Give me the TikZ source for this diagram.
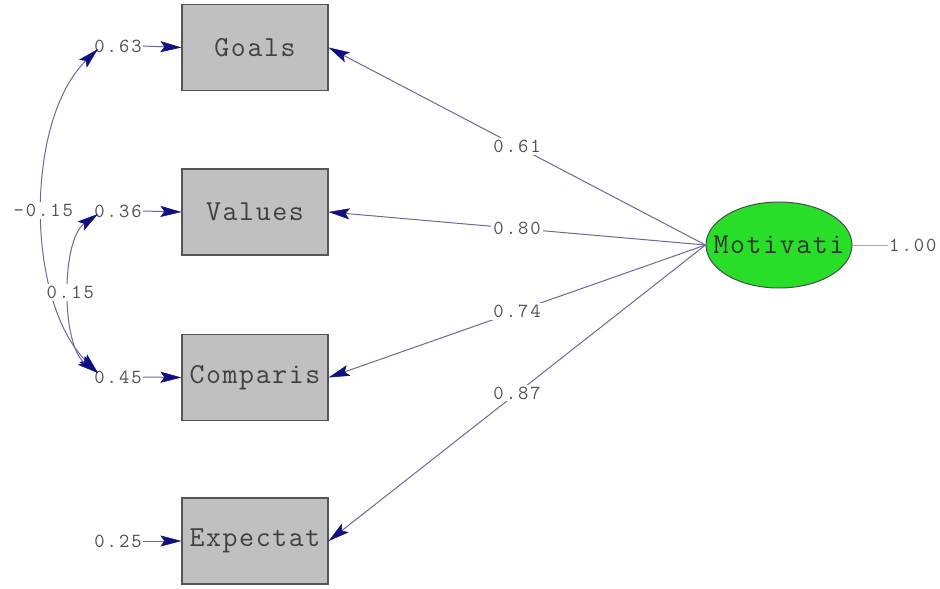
\documentclass[tikz,border=0pt]{standalone}
\usepackage{fontspec}
\newfontfamily\diagfont{Latin Modern Mono}[LetterSpace=5.5]
\newfontfamily\numfont{Latin Modern Mono}[LetterSpace=10]
\usetikzlibrary{arrows.meta,shapes.geometric}
\definecolor{boxgray}{RGB}{192,192,192}
\definecolor{boxedge}{RGB}{85,85,85}
\definecolor{pathline}{RGB}{105,105,160}
\definecolor{tipnavy}{RGB}{15,15,130}
\definecolor{latgreen}{RGB}{40,222,40}
\definecolor{numgray}{RGB}{80,80,80}
\tikzset{
  obsbox/.style={draw=boxedge, line width=1.2pt, fill=boxgray, rectangle,
    minimum width=146, minimum height=86, inner sep=0pt,
    font=\diagfont\fontsize{29}{31}\selectfont, text=black!75},
  latent/.style={draw=black!70, line width=1pt, fill=latgreen, ellipse,
    minimum width=146, minimum height=86, inner sep=0pt,
    font=\diagfont\fontsize{29}{31}\selectfont, text=black!80},
  errlbl/.style={font=\numfont\fontsize{20}{22}\selectfont, text=numgray, inner sep=1pt},
  coeflbl/.style={font=\numfont\fontsize{20}{22}\selectfont, text=numgray, fill=white,
    inner sep=2pt},
  arr/.style={draw=pathline, line width=1pt,
    -{Stealth[length=21pt, width=11pt, inset=4pt, color=tipnavy, line width=0.5pt]}},
  covarr/.style={draw=pathline, line width=1pt,
    {Stealth[length=21pt, width=11pt, inset=4pt, color=tipnavy, line width=0.5pt]}-{Stealth[length=21pt, width=11pt, inset=4pt, color=tipnavy, line width=0.5pt]}},
}
\begin{document}
\begin{tikzpicture}[x=1pt,y=-1pt]
\useasboundingbox[fill=white] (0,0) rectangle (940,589);

% observed indicators
\node[obsbox] (goals) at (255,47.5) {Goals};
\node[obsbox] (values) at (255,212) {Values};
\node[obsbox] (comp) at (255,377.5) {Comparis};
\node[obsbox] (expect) at (255,541) {Expectat};

% latent factor (text kept out of the shape size)
\node[latent] (mot) at (779,245) {\makebox[0pt][c]{Motivati}};
\node[errlbl, anchor=west] (var) at (888,245) {1.00};
\draw[black!35, line width=0.8pt] (mot.east) -- (var.west);

% error variances
\node[errlbl] (e1) at (118,46) {0.63};
\node[errlbl] (e2) at (118,211) {0.36};
\node[errlbl] (e3) at (118,377) {0.45};
\node[errlbl] (e4) at (118,541) {0.25};
\draw[arr] (e1.east) -- (goals.west);
\draw[arr] (e2.east) -- (values.west);
\draw[arr] (e3.east) -- (comp.west);
\draw[arr] (e4.east) -- (expect.west);

% factor loadings
\draw[arr] (mot.west) -- node[coeflbl]{0.61} (goals.east);
\draw[arr] (mot.west) -- node[coeflbl]{0.80} (values.east);
\draw[arr] (mot.west) -- node[coeflbl]{0.74} (comp.east);
\draw[arr] (mot.west) -- node[coeflbl]{0.87} (expect.east);

% error covariances
\coordinate (c1) at (98,49);
\coordinate (c2) at (98,214);
\coordinate (c3) at (98,373);
\draw[covarr] (c1) .. controls (25,120) and (25,300) .. node[coeflbl, pos=0.5]{-0.15} (c3);
\draw[covarr] (c2) .. controls (61,240) and (61,345) .. node[coeflbl, pos=0.5]{0.15} (c3);
\end{tikzpicture}
\end{document}
